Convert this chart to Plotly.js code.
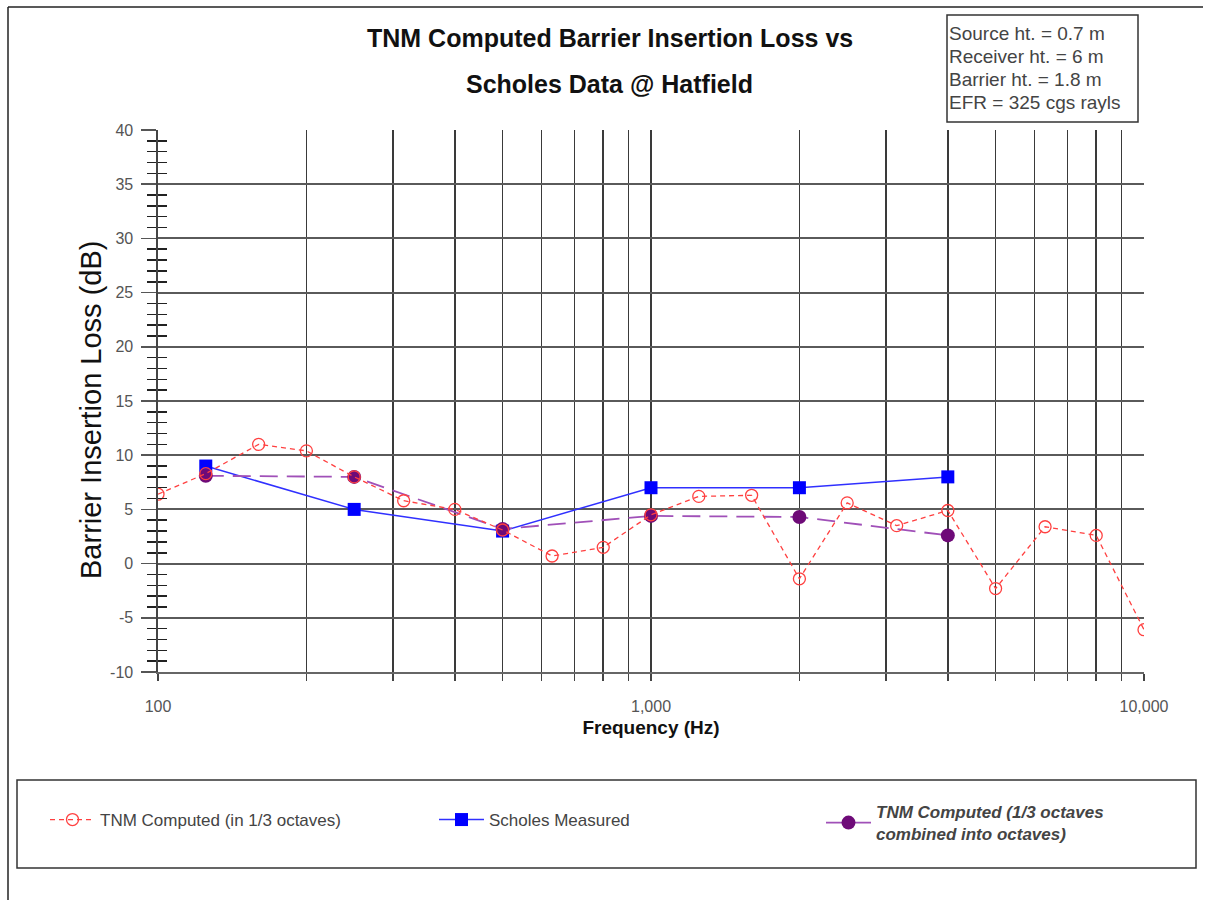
<!DOCTYPE html>
<html>
<head>
<meta charset="utf-8">
<script src="https://cdn.plot.ly/plotly-3.0.1.min.js"></script>
<style>html,body{margin:0;padding:0;background:#fff;}#chart{width:1205px;height:900px;}</style>
</head>
<body>
<div id="chart"></div>
<script>
// ---- data ----
const thirdOctaveFreq = [100,125,160,200,250,315,400,500,630,800,1000,1250,1600,2000,2500,3150,4000,5000,6300,8000,10000];
const tnmThirdOctave = [6.4,8.3,11.0,10.4,8.0,5.8,5.0,3.1,0.7,1.5,4.5,6.2,6.3,-1.4,5.6,3.5,4.9,-2.3,3.4,2.6,-6.1];
const octaveFreq = [125,250,500,1000,2000,4000];
const scholesMeasured = [9.0,5.0,3.0,7.0,7.0,8.0];
const tnmOctave = [8.1,8.0,3.2,4.4,4.3,2.6];
const xTickVals = [100,200,300,400,500,600,700,800,900,1000,2000,3000,4000,5000,6000,7000,8000,9000,10000];
const xTickText = ['100','','','','','','','','','1,000','','','','','','','','','10,000'];
const yTickVals = [-10,-5,0,5,10,15,20,25,30,35,40];
const yTickText = ['-10','-5','0','5','10','15','20','25','30','35','40'];
const seriesNames = ['TNM Computed (in 1/3 octaves)','Scholes Measured','<b><i>TNM Computed (1/3 octaves<br>combined into octaves)</i></b>'];
const titleLines = ['TNM Computed Barrier Insertion Loss vs','Scholes Data @ Hatfield'];
const infoLines = ['Source ht. = 0.7 m','Receiver ht. = 6 m','Barrier ht. = 1.8 m','EFR = 325 cgs rayls'];
const xTitle = 'Frequency (Hz)';
const yTitle = 'Barrier Insertion Loss (dB)';

const FONT = 'Liberation Sans, Arial, sans-serif';

const traces = [
  {
    x: octaveFreq, y: scholesMeasured, name: seriesNames[1], type: 'scatter', mode: 'lines+markers',
    line: {color: '#3030ff', width: 1.5},
    marker: {symbol: 'square', size: 13, color: '#0000ff'},
    legend: 'legend2'
  },
  {
    x: octaveFreq, y: tnmOctave, name: seriesNames[2], type: 'scatter', mode: 'lines+markers',
    line: {color: '#a050b8', width: 1.8, dash: '18px,9px'},
    marker: {symbol: 'circle', size: 14, color: '#6e0a78'},
    legend: 'legend3'
  },
  {
    x: thirdOctaveFreq, y: tnmThirdOctave, name: seriesNames[0], type: 'scatter', mode: 'lines+markers',
    line: {color: '#ff4040', width: 1.3, dash: '5px,4px'},
    marker: {symbol: 'circle-open', size: 12, color: '#ff4040', line: {width: 1.3, color: '#ff4040'}},
    legend: 'legend'
  },
  {
    x: [], y: [], yaxis: 'y2', showlegend: false, hoverinfo: 'skip', type: 'scatter'
  }
];

function px2x(p){ return (p-158)/986; }
function px2y(p){ return (672-p)/542; }

function legendAt(textLeftPx, centerPx) {
  return {
    orientation: 'h', x: px2x(textLeftPx - 55), xanchor: 'left', y: px2y(centerPx), yanchor: 'middle',
    bgcolor: 'rgba(0,0,0,0)', borderwidth: 0,
    font: {size: 17, color: '#444', family: FONT},
    itemwidth: 45, valign: 'middle'
  };
}

const titleFont = {size: 25, color: '#111', family: FONT};
const infoFont = {size: 19, color: '#444', family: FONT};
const infoY = [34, 57, 79, 102];

const annotations = [
  {text: '<b>' + titleLines[0] + '</b>', xref: 'paper', yref: 'paper', x: px2x(609.5), y: px2y(38), xanchor: 'center', yanchor: 'middle', showarrow: false, font: titleFont},
  {text: '<b>' + titleLines[1] + '</b>', xref: 'paper', yref: 'paper', x: px2x(609.5), y: px2y(84), xanchor: 'center', yanchor: 'middle', showarrow: false, font: titleFont},
  {text: yTitle, xref: 'paper', yref: 'paper', x: px2x(91), y: px2y(410), xanchor: 'center', yanchor: 'middle', textangle: -90, showarrow: false, font: {size: 29, color: '#111', family: FONT}}
];
infoLines.forEach(function(t, i) {
  annotations.push({text: t, xref: 'paper', yref: 'paper', x: px2x(947), y: px2y(infoY[i]), xanchor: 'left', yanchor: 'middle', align: 'left', showarrow: false, font: infoFont});
});

const layout = {
  width: 1205, height: 900,
  margin: {l:158, r:61, t:130, b:228},
  paper_bgcolor: '#ffffff', plot_bgcolor: '#ffffff',
  font: {family: FONT, color: '#333'},
  showlegend: true,
  xaxis: {
    type: 'log', range: [2, 4],
    tickmode: 'array', tickvals: xTickVals, ticktext: xTickText,
    showgrid: true, gridcolor: '#3a3a3a', gridwidth: 1.6,
    ticks: 'outside', ticklen: 7, tickcolor: '#444', tickwidth: 1.6,
    ticklabelstandoff: 12,
    tickfont: {size: 16, color: '#555', family: FONT},
    showline: true, linecolor: '#666', linewidth: 2,
    zeroline: false,
    title: {text: '<b>' + xTitle + '</b>', font: {size: 19, color: '#111', family: FONT}, standoff: 6}
  },
  yaxis: {
    range: [-10, 40], tickmode: 'array', tickvals: yTickVals, ticktext: yTickText,
    showgrid: true, gridcolor: '#5a5a5a', gridwidth: 2,
    ticks: 'outside', ticklen: 15, tickcolor: '#555', tickwidth: 1.5,
    ticklabelstandoff: 5,
    tickfont: {size: 16, color: '#555', family: FONT},
    minor: {dtick: 1, tick0: 0, ticks: 'outside', ticklen: 9, tickcolor: '#222', tickwidth: 1.5, showgrid: false},
    showline: true, linecolor: '#444', linewidth: 1.6,
    zeroline: false
  },
  yaxis2: {
    overlaying: 'y', side: 'left', range: [-10, 40], dtick: 5, tick0: 0,
    showgrid: false, showticklabels: false, ticks: '', zeroline: false, showline: false,
    minor: {dtick: 1, tick0: 0, ticks: 'inside', ticklen: 9, tickcolor: '#222', tickwidth: 1.5, showgrid: false}
  },
  legend: legendAt(100, 820),
  legend2: legendAt(489, 820),
  legend3: legendAt(876, 823),
  annotations: annotations,
  shapes: [
    {type: 'rect', xref: 'paper', yref: 'paper', x0: px2x(947), x1: px2x(1138), y0: px2y(122), y1: px2y(15), line: {color: '#333', width: 1.5}},
    {type: 'rect', xref: 'paper', yref: 'paper', x0: px2x(17), x1: px2x(1196), y0: px2y(868), y1: px2y(780), line: {color: '#333', width: 1.5}},
    {type: 'line', xref: 'paper', yref: 'paper', x0: px2x(8), x1: px2x(1203), y0: px2y(7), y1: px2y(7), line: {color: '#222', width: 1.5}},
    {type: 'line', xref: 'paper', yref: 'paper', x0: px2x(8), x1: px2x(8), y0: px2y(7), y1: px2y(900), line: {color: '#222', width: 1.5}}
  ]
};

Plotly.newPlot('chart', traces, layout, {displayModeBar: false, staticPlot: true});
</script>
</body>
</html>
